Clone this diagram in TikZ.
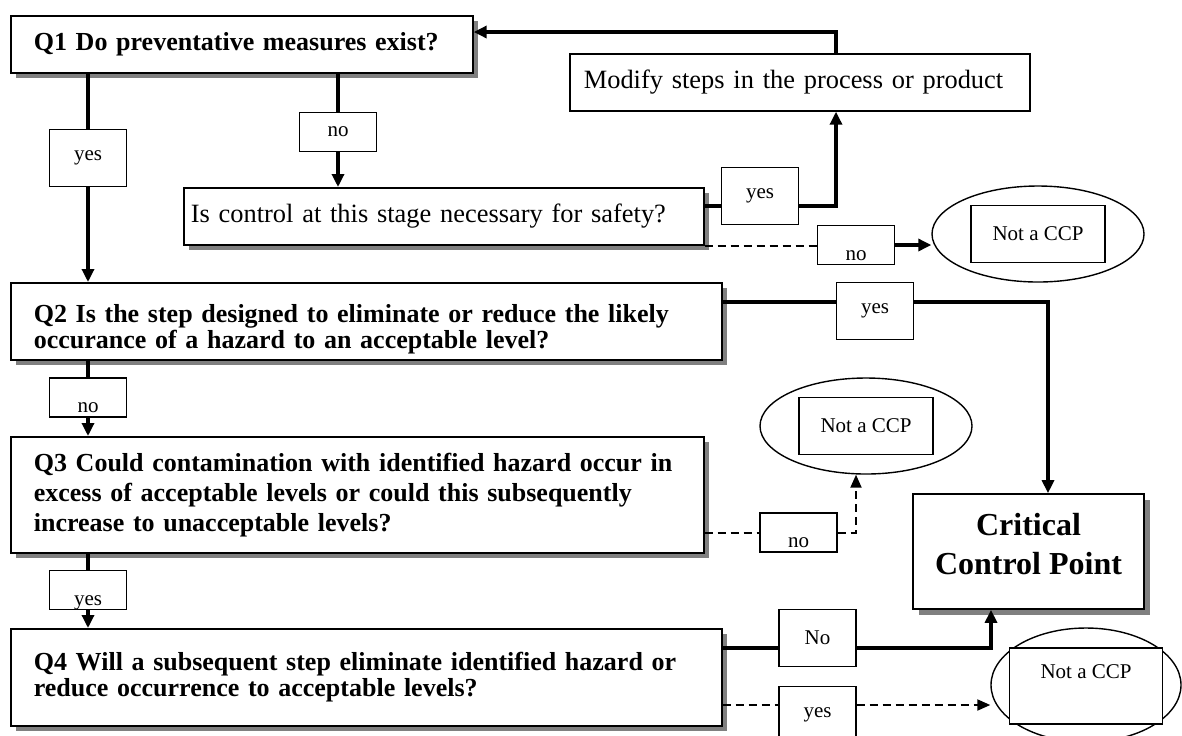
\documentclass[tikz,border=0pt]{standalone}
\usepackage{fontspec}
\setmainfont{Liberation Serif}
\usetikzlibrary{arrows.meta,shapes.geometric,shadows}

\begin{document}
\begin{tikzpicture}[x=0.5pt, y=-0.5pt]
            \tikzstyle{shade}=[drop shadow={shadow xshift=2.75pt, shadow yshift=-2.75pt, fill=gray, opacity=1}]
            \tikzstyle{qbox}=[draw, line width=0.85pt, fill=white, shade, anchor=north west, align=left, inner xsep=11.5pt, inner ysep=0pt]
            \tikzstyle{plain}=[draw, line width=0.85pt, fill=white, anchor=north west, align=left, inner ysep=0pt, minimum height=28.5pt, font=\fontsize{13.2}{13.2}\selectfont]
            \tikzstyle{lbl}=[draw, line width=0.7pt, fill=white, inner sep=0pt, minimum width=38.5pt, minimum height=28.5pt, font=\fontsize{10.5}{10.5}\selectfont]
            \tikzstyle{slbl}=[lbl, minimum height=19.5pt]
            \tikzstyle{low}=[text height=15pt, text depth=0pt]
            \tikzstyle{ell}=[ellipse, draw, line width=0.7pt, inner sep=0pt, minimum width=106pt, minimum height=48pt]
            \tikzstyle{ncp}=[draw, line width=0.7pt, fill=white, inner sep=0pt, minimum width=67pt, minimum height=28.5pt, font=\fontsize{10.5}{10.5}\selectfont]
            \tikzstyle{conn}=[line width=1.6pt]
            \tikzstyle{arr}=[conn, -{Triangle[length=6.5pt, width=6pt]}]
            \tikzstyle{dconn}=[line width=1pt, dash pattern=on 4pt off 2.5pt]
            \tikzstyle{darr}=[dconn, -{Triangle[length=6.5pt, width=5.5pt]}]
            \useasboundingbox (0,0) rectangle (1182,735);
            \node[qbox, text width=208pt, minimum height=28.5pt, font=\bfseries\fontsize{13}{13}\selectfont] (q1) at (10,15) {Q1 Do preventative measures exist?};
            \node[plain, text width=216pt, inner xsep=7pt] (modify) at (569,53) {Modify steps in the process or product};
            \node[plain, shade, text width=253pt, inner xsep=3.5pt] (ctrl) at (183,187) {Is control at this stage necessary for safety?};
            \node[qbox, text width=332.5pt, minimum height=38.5pt, font=\bfseries\fontsize{13}{13}\selectfont] (q2) at (10,282) {\rule{0pt}{17pt}Q2 Is the step designed to eliminate or reduce the likely\\occurance of a hazard to an acceptable level?};
            \node[qbox, text width=323.5pt, minimum height=58pt, font=\bfseries\fontsize{13}{15}\selectfont] (q3) at (10,436) {Q3 Could contamination with identified hazard occur in\\excess of acceptable levels or could this subsequently\\increase to unacceptable levels?};
            \node[qbox, text width=332.5pt, minimum height=48.5pt, font=\bfseries\fontsize{13}{11.5}\selectfont] (q4) at (10,628) {Q4 Will a subsequent step eliminate identified hazard or\\reduce occurrence to acceptable levels?};
            \node[draw, line width=0.85pt, fill=white, shade, minimum width=115.5pt, minimum height=57.5pt, align=center, font=\bfseries\fontsize{16}{19.5}\selectfont] (ccp) at (1028.5,551.5) {Critical\\Control Point\rule[-8pt]{0pt}{8pt}};
            \node[lbl] (yes1) at (88,158) {yes};
            \node[slbl] (no1) at (338,132) {no};
            \node[lbl] (yes2) at (760,196) {yes};
            \node[slbl, low] (no2) at (856,245) {no};
            \node[lbl] (yes3) at (875,311) {yes};
            \node[slbl, low] (no3) at (88,397.5) {no};
            \node[slbl, low] (no4) at (798.5,532.5) {no};
            \node[slbl, low] (yes4) at (88,590) {yes};
            \node[lbl] (no5) at (817.5,638) {No};
            \node[lbl] (yes6) at (817.5,715) {yes};
            \node[ell] (ell1) at (1038,234) {};
            \node[ncp] (ncp1) at (1038,234) {Not a CCP};
            \node[ell] (ell2) at (866,426) {};
            \node[ncp] (ncp2) at (866,426) {Not a CCP};
            \node[ell, minimum width=95pt, minimum height=57pt] (ell3) at (1086,685) {};
            \node[ncp, minimum width=76.5pt, minimum height=38pt, text height=7pt, text depth=15pt] (ncp3) at (1086,686) {Not a CCP};
            \coordinate (fb) at (836,32);
            \coordinate (c2) at ([yshift=-5pt]yes2.west);
            \coordinate (c3) at ([yshift=4.5pt]yes3.west);
            \coordinate (c5) at ([yshift=-5pt]no5.west);
            \coordinate (c6) at ([yshift=5pt]yes6.west);
            \draw[conn] (yes1.north |- q1.south) -- (yes1.north);
            \draw[arr] (yes1.south) -- (yes1.south |- q2.north);
            \draw[conn] (no1.north |- q1.south) -- (no1.north);
            \draw[arr] (no1.south) -- (no1.south |- ctrl.north);
            \draw[conn] (c2 -| ctrl.east) -- (c2);
            \draw[arr] (c2 -| yes2.east) -| (fb |- modify.south);
            \draw[arr] (fb |- modify.north) |- (q1.east |- fb);
            \draw[dconn] (ctrl.south east) -- (ctrl.south east -| no2.west);
            \draw[arr] (no2.east) -- (no2.east -| ell1.west);
            \draw[conn] (c3 -| q2.east) -- (c3);
            \draw[arr] (c3 -| yes3.east) -| ([xshift=9.75pt]ccp.north);
            \draw[conn] (no3.north |- q2.south) -- (no3.north);
            \draw[arr] (no3.south) -- (no3.south |- q3.north);
            \draw[dconn] (no4.west -| q3.east) -- (no4.west);
            \draw[darr] (no4.east) -| ([xshift=-5pt]ell2.south);
            \draw[conn] (yes4.north |- q3.south) -- (yes4.north);
            \draw[arr] (yes4.south) -- (yes4.south |- q4.north);
            \draw[conn] (c5 -| q4.east) -- (c5);
            \draw[arr] (c5 -| no5.east) -| ([xshift=-18.75pt]ccp.south);
            \draw[dconn] (c6 -| q4.east) -- (c6);
            \draw[darr] (c6 -| yes6.east) -- (c6 -| ell3.west);
\end{tikzpicture}
\end{document}
